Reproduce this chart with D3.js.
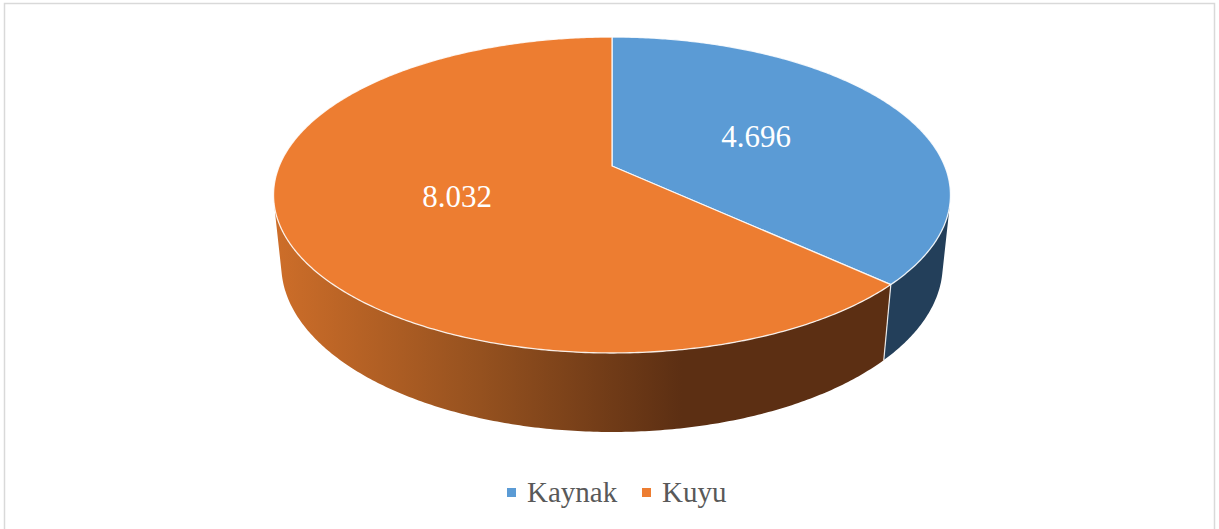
<!DOCTYPE html>
<html>
<head>
<meta charset="utf-8">
<script src="https://cdn.jsdelivr.net/npm/d3@7"></script>
<style>
  svg text { font-family: "Liberation Serif", Tinos, "Times New Roman", serif !important; }
</style>
</head>
<body style="margin:0">
<div id="chart"></div>
<script>
const categories = ["Kaynak", "Kuyu"];
const values = [4.696, 8.032];
const valueLabels = ["4.696", "8.032"];
const topColors = ["#5B9BD5", "#ED7D31"];

const W = 1219, H = 529;
const serif = '"Liberation Serif", Tinos, "Times New Roman", serif';

const svg = d3.select("#chart").append("svg")
    .attr("width", W)
    .attr("height", H)
    .style("display", "block");

// chart frame
svg.append("rect")
    .attr("x", 4.5).attr("y", 3.5)
    .attr("width", 1210).attr("height", 540)
    .attr("fill", "#fff")
    .attr("stroke", "#d9d9d9")
    .attr("stroke-width", 1.5);

// perspective camera for the 3d pie (unit radius disc, thickness depth)
const cx = 612, cy = 166;
const beta = Math.asin(0.4589);       // tilt
const D0 = 4.842;                      // camera distance to centre
const f = 1611;                        // focal length in px
const depth = 0.2385;                  // thickness of the pie
const yc = D0 * Math.sin(beta), zc = -D0 * Math.cos(beta);

function proj(a, r, yw) {
  const X = r * Math.sin(a), Z = r * Math.cos(a);
  const vy = yw - yc, vz = Z - zc;
  const d = -vy * Math.sin(beta) + vz * Math.cos(beta);
  const up = vy * Math.cos(beta) + vz * Math.sin(beta);
  return [cx + f * X / d, cy - f * up / d];
}

const pie = d3.pie().sort(null).value(d => d)
    .startAngle(0).endAngle(2 * Math.PI);
const arcs = pie(values);

const line = d3.line();
function rim(a0, a1, yw) {
  const n = Math.max(2, Math.ceil((a1 - a0) / 0.01));
  return d3.range(n + 1).map(i => proj(a0 + (a1 - a0) * i / n, 1, yw));
}

// visible band of the side wall
const vis0 = Math.acos(1 / zc), vis1 = 2 * Math.PI - vis0;

const defs = svg.append("defs");
const left = proj(-Math.PI / 2, 1, 0)[0];
const grad = defs.append("linearGradient")
    .attr("id", "sideKuyu")
    .attr("gradientUnits", "userSpaceOnUse")
    .attr("x1", left).attr("x2", cx + 70).attr("y1", 0).attr("y2", 0);
grad.append("stop").attr("offset", 0).attr("stop-color", "#cc6d29");
grad.append("stop").attr("offset", 0.5).attr("stop-color", "#95511f");
grad.append("stop").attr("offset", 1).attr("stop-color", "#5c2f13");

const sideFills = ["#233f5a", "url(#sideKuyu)"];

const g = svg.append("g");

// side walls
arcs.forEach((d, i) => {
  const a0 = Math.max(d.startAngle, vis0), a1 = Math.min(d.endAngle, vis1);
  if (a1 <= a0) return;
  const pts = rim(a0, a1, 0).concat(rim(a0, a1, -depth).reverse());
  g.append("path")
      .attr("d", line(pts) + "Z")
      .attr("fill", sideFills[i])
      .attr("stroke", "none");
});

// white edge between the side walls
arcs.forEach(d => {
  const a = d.startAngle;
  if (a > vis0 && a < vis1) {
    g.append("path")
        .attr("d", line([proj(a, 1, 0), proj(a, 1, -depth)]))
        .attr("stroke", "#fff").attr("stroke-opacity", 0.85)
        .attr("stroke-width", 1.2);
  }
});

// top faces
arcs.forEach((d, i) => {
  const pts = [proj(0, 0, 0)].concat(rim(d.startAngle, d.endAngle, 0));
  g.append("path")
      .attr("d", line(pts) + "Z")
      .attr("fill", topColors[i])
      .attr("stroke", "#fff")
      .attr("stroke-opacity", 0.85)
      .attr("stroke-width", 1.3)
      .attr("stroke-linejoin", "round");
});

// data labels
arcs.forEach((d, i) => {
  const p = proj((d.startAngle + d.endAngle) / 2, 0.49, 0);
  svg.append("text")
      .attr("x", p[0]).attr("y", p[1] + 10)
      .attr("text-anchor", "middle")
      .style("font-family", serif, "important")
      .attr("font-size", 31)
      .attr("fill", "#fff")
      .text(valueLabels[i]);
});

// legend
const legendX = [507, 642];
categories.forEach((c, i) => {
  svg.append("rect")
      .attr("x", legendX[i]).attr("y", 488)
      .attr("width", 9).attr("height", 9)
      .attr("fill", topColors[i]);
  svg.append("text")
      .attr("x", legendX[i] + 20).attr("y", 502)
      .style("font-family", serif, "important")
      .attr("font-size", 29)
      .attr("fill", "#595959")
      .text(c);
});
</script>
</body>
</html>
